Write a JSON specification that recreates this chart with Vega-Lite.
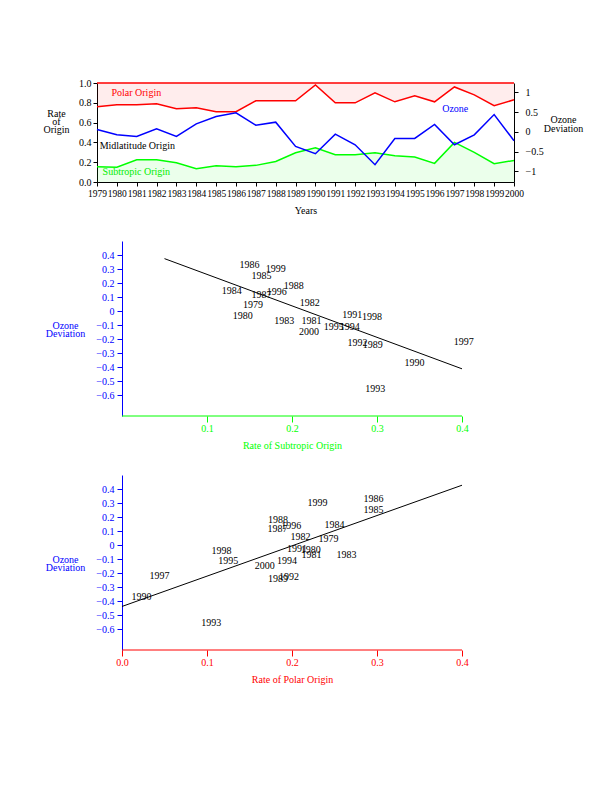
{
  "$schema": "https://vega.github.io/schema/vega-lite/v6.json",
  "padding": {"left": 42, "top": 78, "right": 5, "bottom": 5},
  "spacing": 25,
  "config": {
    "view": {"stroke": null},
    "font": "Liberation Serif",
    "axis": {"grid": false, "labelFont": "Liberation Serif", "titleFont": "Liberation Serif", "labelFontSize": 10, "titleFontSize": 10, "titleFontWeight": "normal", "labelOverlap": false, "labelFlush": false, "labelBound": false, "domainColor": "black", "tickColor": "black", "labelColor": "black", "titleColor": "black"},
    "text": {"font": "Liberation Serif", "fontSize": 10}
  },
  "datasets": {
    "series": [
      {"year": 1979, "polarLine": 0.76, "subtropic": 0.154, "ozoneTop": 0.059},
      {"year": 1980, "polarLine": 0.78, "subtropic": 0.15, "ozoneTop": -0.076},
      {"year": 1981, "polarLine": 0.78, "subtropic": 0.225, "ozoneTop": -0.118},
      {"year": 1982, "polarLine": 0.79, "subtropic": 0.225, "ozoneTop": 0.076},
      {"year": 1983, "polarLine": 0.74, "subtropic": 0.195, "ozoneTop": -0.118},
      {"year": 1984, "polarLine": 0.75, "subtropic": 0.134, "ozoneTop": 0.2},
      {"year": 1985, "polarLine": 0.71, "subtropic": 0.164, "ozoneTop": 0.387},
      {"year": 1986, "polarLine": 0.71, "subtropic": 0.154, "ozoneTop": 0.479},
      {"year": 1987, "polarLine": 0.82, "subtropic": 0.168, "ozoneTop": 0.168},
      {"year": 1988, "polarLine": 0.82, "subtropic": 0.208, "ozoneTop": 0.244},
      {"year": 1989, "polarLine": 0.82, "subtropic": 0.295, "ozoneTop": -0.37},
      {"year": 1990, "polarLine": 0.98, "subtropic": 0.345, "ozoneTop": -0.555},
      {"year": 1991, "polarLine": 0.8, "subtropic": 0.275, "ozoneTop": -0.059},
      {"year": 1992, "polarLine": 0.8, "subtropic": 0.275, "ozoneTop": -0.328},
      {"year": 1993, "polarLine": 0.9, "subtropic": 0.295, "ozoneTop": -0.832},
      {"year": 1994, "polarLine": 0.81, "subtropic": 0.265, "ozoneTop": -0.168},
      {"year": 1995, "polarLine": 0.87, "subtropic": 0.252, "ozoneTop": -0.168},
      {"year": 1996, "polarLine": 0.81, "subtropic": 0.188, "ozoneTop": 0.185},
      {"year": 1997, "polarLine": 0.96, "subtropic": 0.4, "ozoneTop": -0.328},
      {"year": 1998, "polarLine": 0.88, "subtropic": 0.3, "ozoneTop": -0.076},
      {"year": 1999, "polarLine": 0.77, "subtropic": 0.185, "ozoneTop": 0.437},
      {"year": 2000, "polarLine": 0.83, "subtropic": 0.218, "ozoneTop": -0.227}
    ],
    "labels": [
      {"label": "Polar Origin", "year": 1980.98, "value": 0.9},
      {"label": "Midlatitude Origin", "year": 1981.03, "value": 0.36},
      {"label": "Subtropic Origin", "year": 1980.98, "value": 0.1},
      {"label": "Ozone", "year": 1997.04, "value": 0.74}
    ],
    "scatter": [
      {"year": 1979, "subX": 0.154, "polarX": 0.243, "ozone": 0.04},
      {"year": 1980, "subX": 0.142, "polarX": 0.222, "ozone": -0.035},
      {"year": 1981, "subX": 0.223, "polarX": 0.223, "ozone": -0.073},
      {"year": 1982, "subX": 0.221, "polarX": 0.21, "ozone": 0.06},
      {"year": 1983, "subX": 0.191, "polarX": 0.264, "ozone": -0.07},
      {"year": 1984, "subX": 0.129, "polarX": 0.25, "ozone": 0.14},
      {"year": 1985, "subX": 0.164, "polarX": 0.296, "ozone": 0.248},
      {"year": 1986, "subX": 0.15, "polarX": 0.296, "ozone": 0.327},
      {"year": 1987, "subX": 0.164, "polarX": 0.183, "ozone": 0.117},
      {"year": 1988, "subX": 0.202, "polarX": 0.1835, "ozone": 0.18},
      {"year": 1989, "subX": 0.295, "polarX": 0.1835, "ozone": -0.242},
      {"year": 1990, "subX": 0.344, "polarX": 0.023, "ozone": -0.37},
      {"year": 1991, "subX": 0.271, "polarX": 0.206, "ozone": -0.026},
      {"year": 1992, "subX": 0.277, "polarX": 0.1965, "ozone": -0.226},
      {"year": 1993, "subX": 0.298, "polarX": 0.105, "ozone": -0.555},
      {"year": 1994, "subX": 0.268, "polarX": 0.194, "ozone": -0.112},
      {"year": 1995, "subX": 0.249, "polarX": 0.125, "ozone": -0.112},
      {"year": 1996, "subX": 0.182, "polarX": 0.199, "ozone": 0.135},
      {"year": 1997, "subX": 0.402, "polarX": 0.044, "ozone": -0.222},
      {"year": 1998, "subX": 0.294, "polarX": 0.117, "ozone": -0.042},
      {"year": 1999, "subX": 0.181, "polarX": 0.23, "ozone": 0.303},
      {"year": 2000, "subX": 0.22, "polarX": 0.168, "ozone": -0.149}
    ],
    "fitSub": [
      {"subX": 0.05, "ozone": 0.374},
      {"subX": 0.4, "ozone": -0.413}
    ],
    "fitPolar": [
      {"polarX": 0.0, "ozone": -0.439},
      {"polarX": 0.4, "ozone": 0.427}
    ]
  },
  "vconcat": [
    {
      "width": 417,
      "height": 99,
      "data": {"name": "series"},
      "layer": [
        {
          "layer": [
            {
              "mark": {"type": "area", "color": "#ff0000", "opacity": 0.07},
              "encoding": {
                "x": {"field": "year", "type": "quantitative", "scale": {"domain": [1979, 2000], "nice": false},
                      "axis": {"title": "Years", "values": [1979,1980,1981,1982,1983,1984,1985,1986,1987,1988,1989,1990,1991,1992,1993,1994,1995,1996,1997,1998,1999,2000], "tickCount": 50, "format": "d", "labelOverlap": false, "labelFontSize": 9.5, "tickSize": 4, "labelPadding": 2, "titlePadding": 8}},
                "y": {"field": "polarLine", "type": "quantitative", "scale": {"domain": [0, 1], "nice": false},
                      "axis": {"title": ["Rate", "of", "Origin"], "titleAngle": 0, "titleAlign": "center", "titleBaseline": "top", "titleX": -41, "titleY": 25, "titleLineHeight": 8, "values": [0, 0.2, 0.4, 0.6, 0.8, 1], "tickCount": 50, "format": ".1f", "labelOverlap": false, "tickSize": 4, "labelPadding": 2}},
                "y2": {"datum": 1}
              }
            },
            {
              "mark": {"type": "area", "color": "#00ff00", "opacity": 0.08},
              "encoding": {
                "x": {"field": "year", "type": "quantitative"},
                "y": {"field": "subtropic", "type": "quantitative"},
                "y2": {"datum": 0}
              }
            },
            {
              "mark": {"type": "line", "color": "#ff0000", "strokeWidth": 1.5},
              "encoding": {
                "x": {"field": "year", "type": "quantitative"},
                "y": {"field": "polarLine", "type": "quantitative"}
              }
            },
            {
              "mark": {"type": "line", "color": "#00ff00", "strokeWidth": 1.5},
              "encoding": {
                "x": {"field": "year", "type": "quantitative"},
                "y": {"field": "subtropic", "type": "quantitative"}
              }
            },
            {
              "data": {"values": [{}]},
              "mark": {"type": "rule", "color": "#ff0000", "strokeWidth": 1.5},
              "encoding": {"y": {"datum": 1}}
            },
            {
              "data": {"name": "labels"},
              "mark": {"type": "text", "fontSize": 10},
              "encoding": {
                "x": {"field": "year", "type": "quantitative"},
                "y": {"field": "value", "type": "quantitative"},
                "text": {"field": "label", "type": "nominal"},
                "color": {"field": "label", "type": "nominal", "scale": {"domain": ["Polar Origin", "Midlatitude Origin", "Subtropic Origin", "Ozone"], "range": ["#ff0000", "#000000", "#00ee00", "#0000ff"]}, "legend": null}
              }
            }
          ]
        },
        {
          "mark": {"type": "line", "color": "#0000ff", "strokeWidth": 1.5},
          "encoding": {
            "x": {"field": "year", "type": "quantitative"},
            "y": {"field": "ozoneTop", "type": "quantitative", "scale": {"domain": [-1.27, 1.235], "nice": false},
                  "axis": {"orient": "right", "title": ["Ozone", "Deviation"], "titleAngle": 0, "titleAlign": "center", "titleBaseline": "top", "titleX": 49, "titleY": 31, "titleLineHeight": 9, "values": [-1, -0.5, 0, 0.5, 1], "tickCount": 50, "format": "~g", "labelOverlap": false, "tickSize": 4, "labelPadding": 7}}
          }
        }
      ],
      "resolve": {"scale": {"y": "independent", "color": "independent"}}
    },
    {
      "width": 365,
      "height": 175,
      "layer": [
        {
          "data": {"name": "scatter"},
          "mark": {"type": "text", "color": "black", "fontSize": 10},
          "encoding": {
            "x": {"field": "subX", "type": "quantitative", "scale": {"domain": [-0.0294, 0.4], "nice": false, "zero": false},
                  "axis": {"title": "Rate of Subtropic Origin", "titleX": 195, "values": [0.1, 0.2, 0.3, 0.4], "tickCount": 50, "format": "~g", "labelOverlap": false, "domain": false, "tickColor": "#00ff00", "labelColor": "#00ff00", "titleColor": "#00ff00", "tickSize": 6, "labelPadding": 1, "titlePadding": 7}},
            "y": {"field": "ozone", "type": "quantitative", "scale": {"domain": [-0.75, 0.5], "nice": false},
                  "axis": {"offset": -25, "title": ["Ozone", "Deviation"], "titleAngle": 0, "titleAlign": "center", "titleBaseline": "top", "titleX": -57, "titleY": 79, "titleLineHeight": 8, "values": [0.4, 0.3, 0.2, 0.1, 0, -0.1, -0.2, -0.3, -0.4, -0.5, -0.6], "tickCount": 50, "format": "~g", "labelOverlap": false, "domainColor": "#0000ff", "tickColor": "#0000ff", "labelColor": "#0000ff", "titleColor": "#0000ff", "tickSize": 5, "labelPadding": 3}},
            "text": {"field": "year", "type": "nominal"}
          }
        },
        {
          "data": {"name": "fitSub"},
          "mark": {"type": "line", "color": "black", "strokeWidth": 1},
          "encoding": {
            "x": {"field": "subX", "type": "quantitative"},
            "y": {"field": "ozone", "type": "quantitative"}
          }
        },
        {
          "data": {"values": [{}]},
          "mark": {"type": "rule", "color": "#00ff00", "strokeWidth": 1},
          "encoding": {
            "x": {"datum": 0, "type": "quantitative"},
            "x2": {"datum": 0.4},
            "y": {"datum": -0.75, "type": "quantitative"}
          }
        }
      ]
    },
    {
      "width": 365,
      "height": 175,
      "layer": [
        {
          "data": {"name": "scatter"},
          "mark": {"type": "text", "color": "black", "fontSize": 10},
          "encoding": {
            "x": {"field": "polarX", "type": "quantitative", "scale": {"domain": [-0.0294, 0.4], "nice": false, "zero": false},
                  "axis": {"title": "Rate of Polar Origin", "titleX": 195, "values": [0, 0.1, 0.2, 0.3, 0.4], "tickCount": 50, "format": ".1f", "labelOverlap": false, "domain": false, "tickColor": "#ff0000", "labelColor": "#ff0000", "titleColor": "#ff0000", "tickSize": 6, "labelPadding": 1, "titlePadding": 7}},
            "y": {"field": "ozone", "type": "quantitative", "scale": {"domain": [-0.75, 0.5], "nice": false},
                  "axis": {"offset": -25, "title": ["Ozone", "Deviation"], "titleAngle": 0, "titleAlign": "center", "titleBaseline": "top", "titleX": -57, "titleY": 79, "titleLineHeight": 8, "values": [0.4, 0.3, 0.2, 0.1, 0, -0.1, -0.2, -0.3, -0.4, -0.5, -0.6], "tickCount": 50, "format": "~g", "labelOverlap": false, "domainColor": "#0000ff", "tickColor": "#0000ff", "labelColor": "#0000ff", "titleColor": "#0000ff", "tickSize": 5, "labelPadding": 3}},
            "text": {"field": "year", "type": "nominal"}
          }
        },
        {
          "data": {"name": "fitPolar"},
          "mark": {"type": "line", "color": "black", "strokeWidth": 1},
          "encoding": {
            "x": {"field": "polarX", "type": "quantitative"},
            "y": {"field": "ozone", "type": "quantitative"}
          }
        },
        {
          "data": {"values": [{}]},
          "mark": {"type": "rule", "color": "#ff0000", "strokeWidth": 1},
          "encoding": {
            "x": {"datum": 0, "type": "quantitative"},
            "x2": {"datum": 0.4},
            "y": {"datum": -0.75, "type": "quantitative"}
          }
        }
      ]
    }
  ]
}
